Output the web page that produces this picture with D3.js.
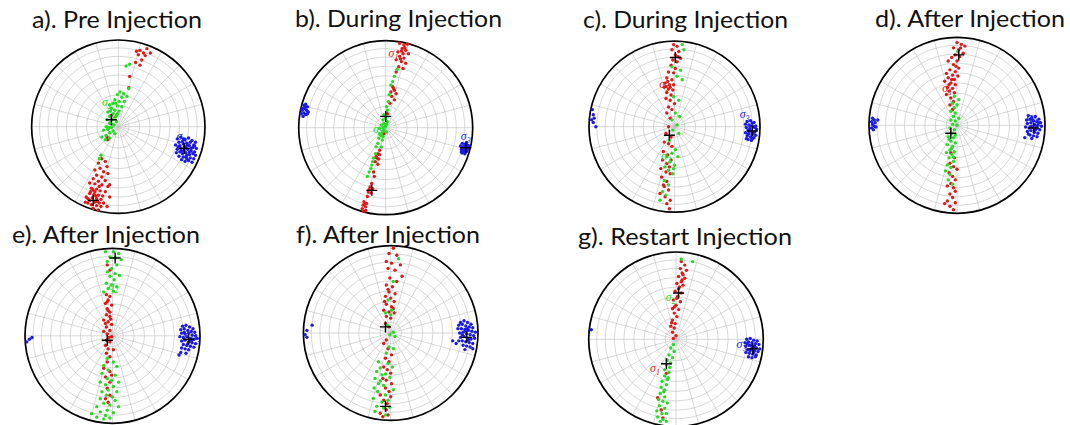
<!DOCTYPE html>
<html>
<head>
<meta charset="utf-8">
<script src="https://cdn.jsdelivr.net/npm/d3@7"></script>
<style>
  body { margin: 0; background: #fff; }
  svg { display: block; }
</style>
</head>
<body>
<script>
// Panel titles
const titles = ["a). Pre Injection", "b). During Injection", "c). During Injection", "d). After Injection",
                "e). After Injection", "f). After Injection", "g). Restart Injection"];

// Polar net: rings every 10° from the centre, spokes every 15°
const ringAngles = [10, 20, 30, 40, 50, 60, 70, 80];
const spokeAngles = d3.range(0, 360, 15);

// Stress-axis solutions in net coordinates (east, north), percent of net radius
// a) Pre injection
const redA = [[25,88],[29,85],[23,83],[33,90],[37,85],[27,77],[25,71],[20,74],[31,82],[21,87],[13,58],[12,45],[-8,13],[-13,-12],[-12,-15],[-19,-37],[-15,-40],[-23,-42],[-13,-46],[-21,-48],[-27,-50],[-17,-52],[-12,-54],[-25,-56],[-19,-58],[-29,-60],[-15,-62],[-23,-63],[-33,-65],[-27,-66],[-19,-67],[-12,-69],[-31,-71],[-25,-72],[-21,-74],[-15,-75],[-33,-77],[-28,-78],[-23,-79],[-18,-80],[-30,-82],[-25,-83],[-20,-84],[-33,-85],[-27,-87],[-22,-88],[-17,-88],[-31,-90],[-25,-91],[-35,-88],[-38,-87],[-20,-92],[-29,-94],[-23,-96],[-10,-67],[-10,-81],[-37,-81],[-13,-92],[-27,-75],[-32,-75],[-26,-80],[-29,-73],[-22,-69],[-35,-83],[-24,-86]];
const greenA = [[9,70],[13,72],[12,44],[2,40],[6,38],[-1,37],[4,34],[10,35],[-4,31],[1,29],[7,29],[-6,27],[-10,25],[-1,24],[4,23],[-8,21],[-4,19],[1,18],[-12,17],[-6,15],[-1,15],[-10,12],[-4,11],[-13,8],[-7,8],[-2,6],[-10,4],[-5,2],[-14,0],[-8,-1],[-12,-3],[-17,-4],[-6,-5],[-10,-7],[-4,-8],[-14,-10],[-19,-12],[-15,-15],[-10,-13],[-20,-33],[-22,-37],[-3,27],[-9,18],[-2,13],[-11,-1],[-7,3]];
const blueA = [[68,-14],[72,-12],[77,-15],[81,-13],[85,-16],[89,-18],[70,-18],[74,-17],[79,-19],[83,-18],[87,-21],[66,-21],[71,-22],[75,-20],[78,-23],[82,-22],[86,-24],[90,-25],[68,-26],[72,-25],[76,-27],[80,-26],[84,-28],[88,-29],[67,-30],[71,-29],[74,-31],[78,-30],[82,-32],[86,-31],[89,-33],[70,-34],[75,-35],[79,-33],[83,-36],[87,-37],[73,-38],[77,-40],[81,-39],[85,-41],[76,-24],[80,-21],[73,-28],[84,-25],[78,-35],[69,-23],[88,-22],[75,-14],[82,-29],[79,-37]];
const meanA = [[-29,-85],[-8,8],[76,-25]];
const tagA = [[2,-13,27],[3,73,-12]];

// b) During injection
const redB = [[16,97],[21,95],[25,96],[19,91],[23,89],[14,87],[20,85],[26,85],[16,82],[21,80],[12,78],[18,76],[23,74],[15,70],[20,68],[12,64],[8,47],[10,43],[6,41],[12,39],[7,36],[10,32],[5,28],[2,16],[-2,-7],[-7,-26],[-9,-30],[-7,-31],[-11,-33],[-8,-36],[-12,-39],[-9,-42],[-14,-51],[-13,-56],[-16,-64],[-18,-68],[-15,-70],[-20,-74],[-17,-75],[-21,-79],[-25,-85],[-22,-87],[-26,-89],[-23,-91],[-27,-93],[-23,-95],[-25,-96],[18,88],[22,92],[17,79],[9,45],[-10,-35],[-19,-71],[-24,-88]];
const greenB = [[13,67],[10,59],[8,53],[6,49],[4,38],[3,30],[1,24],[2,20],[-2,15],[0,11],[-3,9],[2,7],[-2,5],[-5,3],[0,2],[-3,0],[-7,-1],[-2,-3],[-4,-5],[1,-5],[-7,-7],[-3,-10],[-8,-12],[-4,-14],[-9,-18],[-11,-22],[-5,-22],[-12,-30],[-14,-35],[-16,-43],[-17,-47],[-19,-51],[-21,-56],[-15,-39],[-1,1],[-5,-9],[1,4]];
const blueB = [[-94,26],[-92,27],[-90,24],[-93,22],[-96,20],[-91,20],[-94,17],[-89,18],[-97,16],[-92,15],[-95,13],[-90,16],[-93,24],[-96,22],[88,-18],[91,-19],[94,-20],[96,-21],[89,-22],[92,-23],[95,-24],[87,-25],[90,-26],[93,-27],[88,-29],[91,-30],[86,-21],[93,-17],[90,-22],[94,-25],[89,-27],[92,-28],[95,-22],[87,-28]];
const meanB = [[-16,-72],[0,13],[92,-23]];
const tagB = [[1,9,85],[2,-9,-3],[3,92,-11]];

// c) During injection
const redC = [[-1,96],[3,94],[-3,90],[5,88],[1,84],[7,80],[-2,78],[3,76],[-4,72],[1,68],[-7,64],[-1,63],[-9,57],[-3,55],[-11,51],[-6,49],[-1,49],[-12,46],[-7,44],[-2,43],[-9,40],[-4,37],[-10,33],[-5,31],[0,27],[-7,23],[-3,20],[-9,16],[-5,10],[-7,0],[-10,-8],[-4,-12],[-12,-18],[-7,-20],[-3,-23],[-13,-29],[-8,-33],[-14,-39],[-4,-39],[-9,-43],[-16,-49],[-10,-53],[-5,-55],[-15,-59],[-9,-64],[-12,-70],[-7,-74],[-17,-78],[-11,-82],[-5,-86],[-9,-90],[-6,-96],[-13,-68],[-8,53],[-5,46],[-10,47],[4,82],[-6,-47]];
const greenC = [[9,96],[11,90],[-3,70],[7,66],[3,59],[9,55],[-1,35],[5,31],[1,16],[6,12],[-3,8],[3,2],[-2,-4],[5,-8],[-6,-16],[1,-27],[-3,-31],[-9,-35],[4,-35],[-5,-41],[0,-45],[-11,-47],[-7,-51],[-2,-55],[-1,-49],[-12,-63],[-7,-68],[-14,-76],[-10,-80],[-17,-86]];
const blueC = [[85,6],[89,7],[93,5],[83,3],[87,2],[91,4],[95,1],[84,-1],[88,-2],[92,0],[96,-3],[86,-4],[90,-5],[94,-6],[83,-7],[87,-8],[91,-9],[95,-10],[85,-11],[89,-12],[93,-13],[86,-15],[90,-16],[84,-14],[88,-5],[92,-8],[89,1],[94,-1],[86,-9],[91,-14],[-96,20],[-95,14],[-94,10],[-97,8],[-95,5],[-92,0]];
const meanC = [[1,81],[-6,-10],[91,-5]];
const tagC = [[1,-12,49],[2,-10,-35],[3,82,14]];

// d) After injection
const redD = [[0,94],[5,92],[9,90],[-4,88],[2,86],[7,82],[-2,80],[3,78],[-6,77],[-10,73],[0,73],[-4,69],[2,65],[-8,63],[-2,61],[-12,59],[-5,57],[1,56],[-10,54],[-3,52],[-14,50],[-7,48],[-2,46],[-11,43],[-5,42],[-9,39],[-3,37],[-12,35],[-7,31],[-4,27],[-8,23],[-5,18],[-7,-31],[-3,-37],[-8,-43],[-4,-47],[0,-50],[-9,-54],[-5,-58],[-2,-62],[-7,-66],[-11,-69],[-4,-71],[-2,-75],[-8,-78],[-5,-82],[-11,-86],[-2,-88],[-8,-92],[-4,-96],[-14,-89],[-6,52],[-1,67],[4,88],[-9,46]];
const greenD = [[1,84],[-3,33],[2,29],[-5,25],[0,23],[-3,20],[-7,16],[-2,14],[-4,10],[2,8],[-7,6],[-2,5],[-5,1],[0,0],[-8,-3],[-3,-5],[-6,-9],[-2,-11],[-10,-13],[-4,-14],[-7,-18],[-2,-20],[-11,-22],[-5,-24],[-8,-28],[-3,-30],[-12,-31],[-6,-33],[-9,-37],[-4,-41],[-11,-45],[-7,-48],[-13,-52],[-8,-56],[-10,-62],[-5,-67],[-6,-26],[-9,-16],[-4,-36]];
const blueD = [[81,11],[85,9],[89,10],[93,7],[79,6],[83,7],[87,5],[91,4],[95,3],[80,2],[84,3],[88,1],[92,0],[96,-1],[78,-2],[82,-3],[86,-2],[90,-4],[94,-5],[80,-7],[84,-6],[88,-8],[92,-9],[83,-11],[87,-12],[91,-13],[85,-15],[77,-14],[86,6],[90,-1],[84,-1],[89,-5],[93,3],[81,-10],[-96,8],[-94,6],[-97,4],[-93,3],[-96,1],[-94,-1],[-97,-3],[-92,-2],[-95,-5],[-90,6]];
const meanD = [[2,80],[-7,-9],[87,-3]];
const tagD = [[1,-11,41],[3,85,8]];

// e) After injection
const redE = [[-6,81],[-3,75],[-7,47],[-3,45],[-5,41],[-8,37],[-1,35],[-6,31],[-3,27],[-7,24],[-3,22],[-10,18],[-5,16],[-1,13],[-7,10],[-3,6],[-10,5],[-6,2],[-1,-1],[-7,-5],[-3,-7],[-8,-11],[-5,-15],[1,-16],[-7,-20],[-3,-24],[-6,-30],[-10,-37],[-3,-41],[-1,-45],[-3,-53],[-8,-47],[-6,-60],[-3,-68],[-8,-72],[-5,-76],[-5,29],[-2,19],[-8,14],[-4,-2],[-6,39]];
const greenE = [[-8,96],[1,96],[7,94],[-3,90],[3,89],[10,87],[-6,85],[5,81],[-1,77],[-6,73],[3,71],[8,69],[-3,68],[2,64],[-7,60],[-1,58],[5,56],[-5,54],[1,51],[-10,50],[-6,-26],[1,-30],[-10,-34],[5,-35],[-5,-39],[-12,-43],[3,-45],[-6,-49],[-1,-51],[-14,-53],[7,-53],[-8,-56],[1,-58],[-5,-62],[-12,-64],[5,-64],[-7,-68],[0,-70],[-14,-72],[3,-74],[-10,-77],[-3,-79],[-18,-81],[7,-81],[-6,-85],[-14,-87],[1,-88],[-24,-89],[-8,-91],[-3,-94],[-10,-95],[-18,-93]];
const blueE = [[80,11],[84,12],[88,10],[92,8],[78,7],[82,8],[86,6],[90,5],[94,4],[79,3],[83,2],[87,3],[91,1],[95,0],[77,-1],[81,-2],[85,-1],[89,-3],[93,-4],[97,-3],[79,-6],[83,-5],[87,-7],[91,-8],[95,-9],[81,-10],[85,-11],[89,-12],[93,-13],[83,-15],[87,-16],[79,-14],[78,-19],[76,-22],[84,-20],[88,-4],[86,-9],[82,4],[90,-6],[-98,-7],[-95,-4],[-92,-2]];
const meanE = [[3,89],[-6,-5],[87,-4]];
const tagE = [[2,1,56],[3,95,-3]];

// f) After injection
const redF = [[3,97],[-2,91],[7,89],[-5,82],[1,80],[11,78],[-3,74],[5,72],[13,65],[-1,63],[7,59],[-5,55],[2,53],[-2,47],[5,45],[-6,42],[0,40],[4,36],[-5,33],[1,30],[-8,26],[-2,24],[4,23],[-5,19],[0,17],[-6,11],[-2,7],[-5,-8],[-8,-12],[-3,-18],[1,-25],[-6,-29],[-2,-33],[-8,-39],[-4,-42],[0,-46],[-9,-52],[-5,-54],[1,-58],[-6,-63],[-2,-67],[-12,-71],[0,-73],[-8,-77],[-4,-81],[-5,-88],[-12,-92],[-3,-94],[-9,-96],[-3,50],[3,28],[-7,36]];
const greenF = [[9,85],[3,59],[-3,38],[1,26],[-6,23],[0,21],[-4,9],[3,1],[-1,-2],[5,-4],[-2,-16],[3,-18],[-5,-23],[-14,-33],[-3,-35],[-12,-40],[2,-39],[-16,-44],[-6,-47],[-18,-52],[-1,-51],[-14,-58],[-8,-60],[-19,-63],[3,-65],[-15,-67],[-6,-71],[-20,-75],[-10,-79],[-3,-77],[-16,-84],[-8,-86],[-1,-85],[-18,-90],[-6,-94],[-10,-48],[-12,-55]];
const blueF = [[80,12],[84,14],[88,12],[92,10],[78,9],[82,10],[86,8],[90,7],[94,6],[77,5],[81,5],[85,4],[89,3],[93,2],[97,1],[79,0],[83,1],[87,-1],[91,-2],[95,-3],[80,-5],[84,-4],[88,-6],[92,-7],[96,-6],[78,-9],[82,-9],[86,-10],[90,-11],[94,-12],[71,-9],[75,-12],[83,-14],[87,-15],[91,-16],[85,-19],[94,-18],[89,-8],[86,2],[82,-2],[88,5],[-98,-2],[-96,-5],[-96,3],[-90,9]];
const meanF = [[-6,7],[-6,-84],[87,-5]];
const tagF = [];

// g) Restart injection
const redG = [[6,89],[10,85],[5,81],[12,79],[7,76],[3,72],[10,70],[6,66],[1,64],[8,62],[3,58],[-1,55],[6,53],[2,49],[-3,45],[5,43],[0,39],[-4,35],[3,34],[-2,30],[1,26],[-4,22],[-1,18],[-6,15],[-2,13],[-4,8],[0,4],[-3,1],[-21,-67],[-15,-90],[-11,-39],[-17,-81],[8,74],[4,60],[1,47],[-2,37],[-5,19],[7,68]];
const greenG = [[19,89],[6,92],[-3,-6],[-6,-10],[-2,-14],[-8,-18],[-4,-21],[-10,-24],[-6,-27],[-11,-29],[-7,-32],[-13,-35],[-8,-38],[-13,-42],[-10,-46],[-16,-48],[-11,-52],[-17,-55],[-13,-58],[-18,-62],[-13,-66],[-20,-69],[-15,-71],[-10,-73],[-19,-76],[-13,-79],[-22,-82],[-16,-85],[-11,-85],[-21,-89],[-15,-92],[-18,-94],[-11,-94],[-9,-44],[-14,-60]];
const blueG = [[81,0],[85,1],[89,-1],[93,-2],[79,-4],[83,-3],[87,-4],[91,-5],[95,-6],[80,-8],[84,-7],[88,-9],[92,-10],[96,-11],[82,-12],[86,-11],[90,-13],[94,-14],[80,-15],[84,-16],[88,-17],[92,-18],[83,-20],[87,-21],[86,-7],[90,-8],[82,-5],[89,-15],[85,-13],[91,-20],[-97,11]];
const meanG = [[3,53],[-11,-28],[88,-11]];
const tagG = [[2,-6,47],[1,-24,-34],[3,75,-6]];

const reds = [redA, redB, redC, redD, redE, redF, redG];
const greens = [greenA, greenB, greenC, greenD, greenE, greenF, greenG];
const blues = [blueA, blueB, blueC, blueD, blueE, blueF, blueG];
const means = [meanA, meanB, meanC, meanD, meanE, meanF, meanG];
const tags = [tagA, tagB, tagC, tagD, tagE, tagF, tagG];

// Page layout: net centre / radius and title anchor for each panel
const layout = [
  {cx: 118.3, cy: 126.7, r: 86.7, tx: 32,  ty: 28,  tw: 170},
  {cx: 385.7, cy: 127.7, r: 87.0, tx: 295, ty: 27,  tw: 207},
  {cx: 674.5, cy: 126.7, r: 85.5, tx: 583, ty: 27.5, tw: 205},
  {cx: 957.0, cy: 125.3, r: 88.0, tx: 875, ty: 27,  tw: 190},
  {cx: 112.5, cy: 335.8, r: 87.5, tx: 12,  ty: 243, tw: 188},
  {cx: 390.7, cy: 333.0, r: 87.3, tx: 296, ty: 243, tw: 184},
  {cx: 676.0, cy: 339.3, r: 87.3, tx: 578, ty: 245, tw: 214}
];

const colors = {1: "#e01818", 2: "#24dc24", 3: "#1a1ae0"};

const svg = d3.select("body").append("svg")
  .attr("width", 1070).attr("height", 425);

svg.append("rect").attr("width", 1070).attr("height", 425).attr("fill", "#fff");

titles.forEach((t, i) => {
  const L = layout[i];
  const x = d3.scaleLinear().domain([-100, 100]).range([L.cx - L.r, L.cx + L.r]);
  const y = d3.scaleLinear().domain([-100, 100]).range([L.cy + L.r, L.cy - L.r]);
  // equal-area radius for an angular distance from the centre
  const ringR = d3.scaleLinear().domain([0, 1]).range([0, L.r]);
  const eqArea = a => Math.sin(a / 2 * Math.PI / 180) / Math.sin(Math.PI / 4);

  const g = svg.append("g");

  g.append("text")
    .attr("x", L.tx).attr("y", L.ty)
    .attr("textLength", L.tw).attr("lengthAdjust", "spacingAndGlyphs")
    .attr("font-family", "Lato, 'Open Sans', sans-serif")
    .attr("font-size", 23).attr("fill", "#111")
    .text(t);

  const grid = g.append("g").attr("fill", "none").attr("stroke", "#bdbdbd").attr("stroke-width", 0.6);
  grid.selectAll("circle").data(ringAngles).join("circle")
    .attr("cx", L.cx).attr("cy", L.cy)
    .attr("r", d => ringR(eqArea(d)));
  grid.selectAll("line").data(spokeAngles).join("line")
    .attr("x1", L.cx).attr("y1", L.cy)
    .attr("x2", d => L.cx + L.r * Math.sin(d * Math.PI / 180))
    .attr("y2", d => L.cy - L.r * Math.cos(d * Math.PI / 180));

  g.append("circle").attr("cx", L.cx).attr("cy", L.cy).attr("r", L.r)
    .attr("fill", "none").attr("stroke", "#000").attr("stroke-width", 1.7);

  const drawPts = (pts, c) => g.append("g").attr("fill", c)
    .selectAll("circle").data(pts).join("circle")
    .attr("cx", d => x(d[0])).attr("cy", d => y(d[1])).attr("r", 1.7);

  drawPts(reds[i], colors[1]);
  drawPts(greens[i], colors[2]);
  drawPts(blues[i], colors[3]);

  // axis labels
  const lab = g.append("g").attr("font-family", "'Liberation Serif', serif")
    .attr("font-style", "italic");
  tags[i].forEach(([k, px, py]) => {
    const tx = lab.append("text")
      .attr("x", x(px)).attr("y", y(py) + 3)
      .attr("text-anchor", "middle")
      .attr("font-size", 12).attr("fill", colors[k]);
    tx.append("tspan").text("σ");
    tx.append("tspan").attr("font-size", 8).attr("dy", 3).text(k);
  });

  // mean stress directions
  g.append("g").attr("stroke", "#000").attr("stroke-width", 1.4)
    .selectAll("path").data(means[i]).join("path")
    .attr("d", d => `M${x(d[0]) - 5.5},${y(d[1])}h11M${x(d[0])},${y(d[1]) - 5.5}v11`);
});
</script>
</body>
</html>
